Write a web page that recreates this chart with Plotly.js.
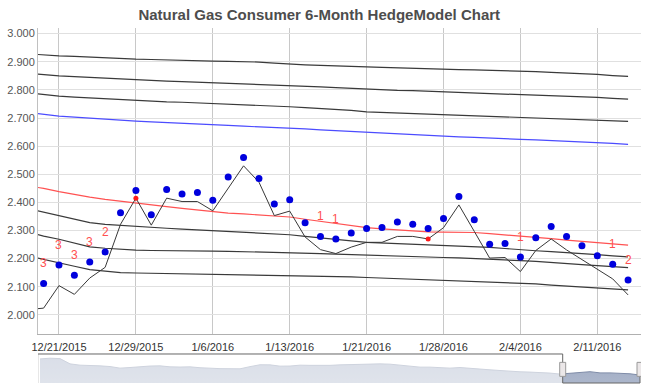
<!DOCTYPE html>
<html>
<head>
<meta charset="utf-8">
<script src="https://cdn.plot.ly/plotly-3.0.1.min.js"></script>
<style>html,body{margin:0;padding:0;background:#fff;}#chart{width:645px;height:387px;}</style>
</head>
<body>
<div id="chart"></div>
<script>
// ---- data (trading days) ----
const dates = ['12/17/2015','12/18/2015','12/21/2015','12/22/2015','12/23/2015','12/24/2015','12/28/2015','12/29/2015','12/30/2015','12/31/2015',
  '1/4/2016','1/5/2016','1/6/2016','1/7/2016','1/8/2016','1/11/2016','1/12/2016','1/13/2016','1/14/2016','1/15/2016',
  '1/19/2016','1/20/2016','1/21/2016','1/22/2016','1/25/2016','1/26/2016','1/27/2016','1/28/2016','1/29/2016','2/1/2016',
  '2/2/2016','2/3/2016','2/4/2016','2/5/2016','2/8/2016','2/9/2016','2/10/2016','2/11/2016','2/12/2016','2/16/2016'];
const tickDates = ['12/21/2015','12/29/2015','1/6/2016','1/13/2016','1/21/2016','1/28/2016','2/4/2016','2/11/2016'];

const priceLine = [2.019,2.024,2.104,2.073,2.131,2.169,2.322,2.415,2.319,2.415,
  2.403,2.403,2.370,2.450,2.530,2.472,2.353,2.369,2.277,2.232,
  2.218,2.241,2.258,2.258,2.279,2.279,2.270,2.310,2.391,2.297,
  2.202,2.204,2.154,2.229,2.270,2.231,2.196,2.160,2.128,2.071];
const modelDots = [null,2.112,2.177,2.141,2.188,2.224,2.363,2.442,2.356,2.446,
  2.430,2.435,2.408,2.490,2.560,2.485,2.394,2.409,2.328,2.279,
  2.270,2.291,2.307,2.311,2.330,2.322,2.307,2.343,2.421,2.338,
  2.251,2.254,2.206,2.274,2.314,2.279,2.246,2.210,2.180,2.124];
const signalDots = [null,null,null,null,null,null,null,2.415,null,null,
  null,null,null,null,null,null,null,null,null,null,
  null,null,null,null,null,null,2.270,null,null,null,
  null,null,null,null,null,null,null,null,null,null];
const hedgeLevels = ['','3','3','3','3','2','','','','',
  '','','','','','','','','','1',
  '1','','','','','','','','','',
  '','','1','','','','','','1','2'];

const redCurve = [2.458,2.450,2.438,2.428,2.419,2.411,2.404,2.398,2.391,2.385,
  2.379,2.373,2.367,2.362,2.359,2.356,2.352,2.348,2.340,2.332,
  2.325,2.317,2.310,2.306,2.302,2.298,2.295,2.294,2.294,2.293,
  2.289,2.285,2.281,2.276,2.271,2.266,2.261,2.256,2.252,2.248];
const blueCurve = [2.720,2.713,2.707,2.703,2.699,2.696,2.692,2.689,2.686,2.684,
  2.681,2.679,2.676,2.674,2.671,2.669,2.666,2.664,2.661,2.658,
  2.655,2.652,2.649,2.646,2.643,2.640,2.638,2.635,2.633,2.631,
  2.628,2.626,2.624,2.622,2.620,2.618,2.616,2.614,2.610,2.606];
const upper1 = [2.928,2.924,2.921,2.919,2.916,2.914,2.911,2.909,2.908,2.906,
  2.905,2.903,2.902,2.901,2.900,2.899,2.895,2.891,2.889,2.887,
  2.886,2.884,2.882,2.880,2.878,2.877,2.875,2.873,2.872,2.871,
  2.870,2.868,2.867,2.865,2.862,2.860,2.857,2.855,2.851,2.848];
const upper2 = [2.859,2.854,2.850,2.847,2.844,2.841,2.838,2.835,2.833,2.831,
  2.829,2.827,2.825,2.823,2.822,2.820,2.819,2.817,2.814,2.811,
  2.808,2.805,2.802,2.800,2.798,2.797,2.795,2.793,2.791,2.790,
  2.788,2.787,2.785,2.783,2.780,2.778,2.775,2.773,2.770,2.767];
const upper3 = [2.789,2.783,2.778,2.774,2.771,2.768,2.764,2.761,2.759,2.757,
  2.756,2.754,2.752,2.750,2.747,2.745,2.742,2.740,2.737,2.734,
  2.731,2.727,2.722,2.720,2.719,2.717,2.716,2.714,2.712,2.710,
  2.707,2.705,2.703,2.701,2.699,2.697,2.695,2.693,2.690,2.688];
const lower1 = [2.378,2.365,2.354,2.340,2.328,2.322,2.318,2.315,2.311,2.308,
  2.305,2.302,2.299,2.296,2.294,2.292,2.289,2.285,2.279,2.273,
  2.268,2.263,2.258,2.256,2.254,2.252,2.250,2.248,2.246,2.243,
  2.240,2.236,2.231,2.228,2.225,2.222,2.219,2.214,2.210,2.206];
const lower2 = [2.295,2.280,2.269,2.255,2.242,2.237,2.233,2.230,2.229,2.229,
  2.228,2.228,2.227,2.226,2.225,2.224,2.223,2.222,2.220,2.218,
  2.216,2.214,2.212,2.211,2.209,2.208,2.206,2.204,2.203,2.201,
  2.199,2.196,2.193,2.190,2.187,2.183,2.179,2.175,2.172,2.168];
const lower3 = [2.210,2.197,2.186,2.173,2.161,2.155,2.150,2.149,2.148,2.148,
  2.147,2.146,2.145,2.145,2.144,2.143,2.142,2.141,2.139,2.138,
  2.136,2.135,2.133,2.131,2.129,2.127,2.125,2.123,2.121,2.120,
  2.118,2.116,2.113,2.110,2.106,2.103,2.099,2.096,2.092,2.089];

// navigator (long history, evenly spaced samples)
const navigatorHistory = [2.972,3.000,2.984,2.772,2.720,2.712,2.692,2.664,2.600,2.624,
  2.664,2.684,2.692,2.652,2.644,2.652,2.616,2.592,2.580,2.576,
  2.572,2.660,2.736,2.732,2.680,2.684,2.720,2.712,2.700,2.712,
  2.732,2.744,2.760,2.744,2.772,2.760,2.720,2.664,2.640,2.640,
  2.612,2.600,2.624,2.584,2.560,2.532,2.504,2.464,2.452,2.440,
  2.424,2.400,2.360,2.404,2.424,2.456,2.408,2.408,2.400,2.372,2.320];
const navSelection = [52.27, 60];

// ---- chart ----
const FONT = 'Liberation Sans, Arial, Helvetica, sans-serif';
function band(y, color, width) {
  return {x: dates, y: y, type: 'scatter', mode: 'lines', line: {color: color, width: width}, hoverinfo: 'skip', showlegend: false};
}
const navIdx = navigatorHistory.map((_, i) => i);

const traces = [
  band(upper1, '#3a3a3a', 1.2),
  band(upper2, '#3a3a3a', 1.2),
  band(upper3, '#3a3a3a', 1.2),
  band(blueCurve, '#4c4cff', 1.2),
  band(lower1, '#3a3a3a', 1.2),
  band(lower2, '#3a3a3a', 1.2),
  band(lower3, '#3a3a3a', 1.2),
  band(redCurve, '#ff5252', 1.2),
  band(priceLine, '#383838', 1),
  {x: dates, y: modelDots, type: 'scatter', mode: 'markers', marker: {color: '#0000dd', size: 7}, showlegend: false, hoverinfo: 'skip'},
  {x: dates, y: signalDots, type: 'scatter', mode: 'markers', marker: {color: '#ff1a1a', size: 5}, showlegend: false, hoverinfo: 'skip'},
  {x: navIdx, y: navigatorHistory, xaxis: 'x2', yaxis: 'y2', type: 'scatter', mode: 'lines',
   line: {color: '#7f8ca8', width: 1}, fill: 'tozeroy',
   fillgradient: {type: 'vertical', colorscale: [[0, '#c8cfdc'], [1, '#9eaac3']]},
   showlegend: false, hoverinfo: 'skip'}
];

const annotations = [];
dates.forEach((d, i) => {
  if (hedgeLevels[i]) {
    annotations.push({x: d, y: modelDots[i], xref: 'x', yref: 'y', text: hedgeLevels[i], showarrow: false,
      yshift: 20, font: {family: FONT, size: 12, color: '#ff4f4f'}});
  }
});

const navL = -0.2;
const shapes = [
  {type: 'rect', xref: 'x2', yref: 'y2 domain', x0: navL, x1: navSelection[0], y0: 0, y1: 1,
   fillcolor: 'rgba(255,255,255,0.62)', line: {width: 0}, layer: 'above'},
  {type: 'line', xref: 'x2', yref: 'y2 domain', x0: navL, x1: navL, y0: 0, y1: 1, line: {color: '#d0d0d0', width: 1}},
  {type: 'line', xref: 'x2', yref: 'y2 domain', x0: navL, x1: navSelection[0], y0: 1, y1: 1, line: {color: '#666', width: 1}},
  {type: 'line', xref: 'x2', yref: 'y2 domain', x0: navSelection[0], x1: navSelection[0], y0: 1, y1: 0, line: {color: '#666', width: 1}},
  {type: 'line', xref: 'x2', yref: 'y2 domain', x0: navSelection[0], x1: navSelection[1], y0: 0, y1: 0, line: {color: '#666', width: 1}},
  {type: 'line', xref: 'x2', yref: 'y2 domain', x0: navSelection[1], x1: navSelection[1], y0: 0, y1: 0.55, line: {color: '#666', width: 1}},
  {type: 'rect', xref: 'x2', yref: 'y2 domain', xsizemode: 'pixel', ysizemode: 'pixel', xanchor: navSelection[0], yanchor: 0.47,
   x0: -3, x1: 3, y0: -7, y1: 7, fillcolor: '#ebe7e8', line: {color: '#999', width: 1}, layer: 'above'},
  {type: 'rect', xref: 'x2', yref: 'y2 domain', xsizemode: 'pixel', ysizemode: 'pixel', xanchor: navSelection[1], yanchor: 0.47,
   x0: -3, x1: 3, y0: -7, y1: 7, fillcolor: '#ebe7e8', line: {color: '#999', width: 1}, layer: 'above'}
];

const layout = {
  width: 645, height: 387,
  margin: {l: 38, r: 4, t: 28, b: 4},
  paper_bgcolor: '#ffffff', plot_bgcolor: '#ffffff',
  font: {family: FONT, size: 11, color: '#444'},
  title: {text: '<b>Natural Gas Consumer 6-Month HedgeModel Chart</b>', font: {family: FONT, size: 15, color: '#4d4d4d'},
          x: 0.495, xanchor: 'center', xref: 'container', y: 0.962, yanchor: 'middle', yref: 'container'},
  showlegend: false,
  xaxis: {type: 'category', categoryorder: 'array', categoryarray: dates, range: [0.635, 39.84],
          tickmode: 'array', tickvals: tickDates, ticktext: tickDates,
          showgrid: true, gridcolor: '#c8c8c8', gridwidth: 1, zeroline: false,
          showline: true, linecolor: '#b0b0b0', linewidth: 1, ticks: '', ticklabelstandoff: 3,
          tickfont: {family: FONT, size: 11, color: '#333'}, fixedrange: true},
  yaxis: {domain: [0.138, 1], range: [1.932, 3.02], tick0: 2, dtick: 0.1, tickformat: '.3f',
          showgrid: true, gridcolor: '#e0e0e0', gridwidth: 1, zeroline: false,
          showline: true, linecolor: '#c0c0c0', linewidth: 1, ticks: '',
          tickfont: {family: FONT, size: 11, color: '#555'}, fixedrange: true},
  xaxis2: {anchor: 'y2', range: [navL, 60.1], showgrid: false, zeroline: false, showticklabels: false, showline: false, fixedrange: true},
  yaxis2: {anchor: 'x2', domain: [0, 0.0817], range: [2.0, 3.17], showgrid: false, zeroline: false, showticklabels: false, showline: false, fixedrange: true},
  annotations: annotations,
  shapes: shapes
};

Plotly.newPlot('chart', traces, layout, {displayModeBar: false, staticPlot: true});
</script>
</body>
</html>
